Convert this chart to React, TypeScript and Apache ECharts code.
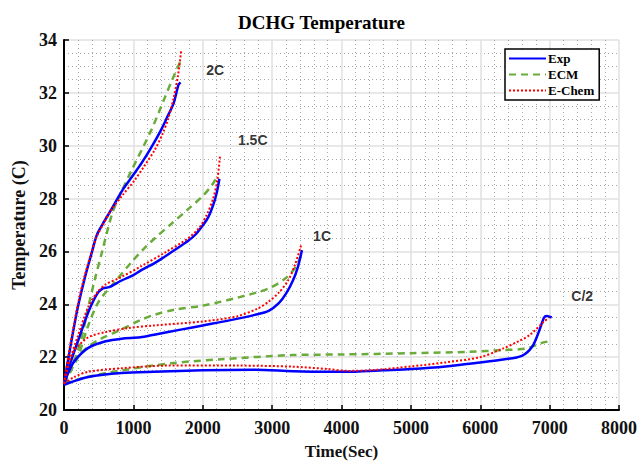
import React, { useEffect, useRef } from "react";
import * as echarts from "echarts";

// ---- data (Time [s], Temperature [C]) ----
const exp2C = [[0,21.0],[60,21.9],[120,22.8],[200,23.9],[300,25.0],[400,25.95],[470,26.6],[550,27.0],[640,27.4],[750,27.9],[850,28.35],[1000,28.9],[1120,29.35],[1250,29.9],[1400,30.6],[1500,31.15],[1580,31.6],[1650,32.3],[1680,32.4]];
const echem2C = [[0,21.0],[60,22.0],[120,22.9],[200,24.0],[300,25.1],[400,26.0],[470,26.55],[560,27.0],[690,27.6],[850,28.15],[1020,28.7],[1150,29.2],[1310,29.85],[1420,30.45],[1500,31.0],[1580,31.8],[1640,32.6],[1690,33.6]];
const ecm2C = [[0,21.0],[100,21.5],[250,22.7],[350,23.9],[450,25.0],[550,26.0],[690,27.4],[800,28.1],[980,29.1],[1260,30.6],[1450,31.8],[1560,32.5],[1680,33.2]];

const exp15C = [[0,21.0],[80,21.7],[200,22.6],[350,23.7],[480,24.4],[560,24.6],[650,24.65],[830,24.9],[1000,25.1],[1120,25.3],[1300,25.55],[1450,25.8],[1650,26.15],[1790,26.4],[1900,26.65],[1990,26.95],[2080,27.3],[2150,27.75],[2200,28.2],[2240,28.75]];
const echem15C = [[0,21.0],[80,21.85],[200,22.8],[350,23.9],[480,24.45],[600,24.75],[800,25.0],[1120,25.45],[1450,25.95],[1790,26.5],[1950,26.9],[2060,27.4],[2150,28.0],[2210,28.7],[2250,29.65]];
const ecm15C = [[0,21.0],[100,21.5],[200,22.0],[350,23.2],[500,24.1],[735,24.85],[975,25.6],[1150,26.1],[1310,26.5],[1550,27.05],[1790,27.6],[2000,28.1],[2130,28.5],[2220,28.9]];

const exp1C = [[0,20.95],[60,21.4],[150,21.85],[350,22.35],[600,22.6],[830,22.7],[1100,22.75],[1300,22.85],[1700,23.05],[2000,23.2],[2400,23.4],[2750,23.6],[2950,23.75],[3100,24.05],[3200,24.4],[3300,24.9],[3370,25.4],[3430,26.05]];
const echem1C = [[0,21.0],[60,21.7],[150,22.25],[350,22.75],[600,22.95],[930,23.1],[1300,23.2],[2000,23.35],[2500,23.55],[2800,23.85],[2950,24.1],[3100,24.45],[3230,24.9],[3330,25.5],[3420,26.25]];
const ecm1C = [[0,21.0],[150,21.9],[350,22.4],[500,22.65],[830,23.05],[1100,23.4],[1300,23.6],[1600,23.8],[2000,23.95],[2500,24.25],[2950,24.6],[3200,25.0],[3350,25.45],[3430,25.95]];

const expHalfC = [[0,20.95],[100,21.05],[350,21.25],[830,21.4],[1300,21.45],[2000,21.5],[2750,21.52],[3300,21.47],[3800,21.45],[4200,21.45],[4600,21.5],[5000,21.55],[5500,21.65],[6000,21.8],[6300,21.9],[6600,22.05],[6750,22.4],[6850,23.0],[6920,23.5],[6960,23.56],[7030,23.5]];
const echemHalfC = [[0,21.0],[150,21.25],[350,21.45],[830,21.58],[1500,21.68],[2500,21.68],[3300,21.64],[3800,21.55],[4100,21.48],[4500,21.52],[5000,21.65],[5500,21.8],[6000,22.0],[6330,22.33],[6550,22.6],[6720,22.85],[6900,23.3],[6990,23.5]];
const ecmHalfC = [[0,21.0],[350,21.26],[830,21.5],[1550,21.77],[2270,21.92],[3300,22.08],[4000,22.1],[5000,22.15],[5850,22.2],[6330,22.27],[6670,22.33],[6900,22.55],[7000,22.6]];

const rateLabels = [
  { name: "2C", value: [2180, 32.85] },
  { name: "1.5C", value: [2720, 30.2] },
  { name: "1C", value: [3720, 26.6] },
  { name: "C/2", value: [7470, 24.3] },
];

const legendNames = ["Exp", "ECM", "E-Chem"];

const SERIF = "'Liberation Serif', 'Times New Roman', serif";

export default function App() {
  const ref = useRef<HTMLDivElement>(null);
  useEffect(() => {
    document.body.style.margin = "0";
    const chart = echarts.init(ref.current!, null, { renderer: "svg" });
    const expStyle = { color: "#0000ff", width: 2.5, type: "solid" as const };
    const ecmStyle = { color: "#6aac3a", width: 2.5, type: [7, 5] as any };
    const echemStyle = { color: "#ff0000", width: 2, type: [2, 2] as any };
    const mk = (name: string, data: number[][], ls: any) => ({
      name,
      type: "line",
      data,
      symbol: "none",
      showSymbol: false,
      smooth: 0.3,
      lineStyle: ls,
      itemStyle: { color: ls.color },
      z: name === "E-Chem" ? 4 : name === "Exp" ? 3 : 2,
    });
    const series: any[] = [
      mk("Exp", exp2C, expStyle),
      mk("Exp", exp15C, expStyle),
      mk("Exp", exp1C, expStyle),
      mk("Exp", expHalfC, expStyle),
      mk("ECM", ecm2C, ecmStyle),
      mk("ECM", ecm15C, ecmStyle),
      mk("ECM", ecm1C, ecmStyle),
      mk("ECM", ecmHalfC, ecmStyle),
      mk("E-Chem", echem2C, echemStyle),
      mk("E-Chem", echem15C, echemStyle),
      mk("E-Chem", echem1C, echemStyle),
      mk("E-Chem", echemHalfC, echemStyle),
      {
        name: "rates",
        type: "scatter",
        data: rateLabels,
        symbolSize: 0,
        silent: true,
        label: {
          show: true,
          position: "inside",
          formatter: "{b}",
          fontFamily: "'Liberation Sans', Arial, sans-serif",
          fontWeight: "bold",
          fontSize: 14,
          color: "#000",
        },
        z: 5,
      },
    ];
    const axisCommon = {
      axisLine: { show: true, onZero: false, lineStyle: { color: "#000", width: 2 } },
      axisTick: { show: true, inside: true, length: 5, lineStyle: { color: "#000", width: 1.5 } },
      axisLabel: { fontFamily: SERIF, fontWeight: "bold", fontSize: 18, color: "#111", formatter: (v: number) => String(v) },
      splitLine: { show: true, lineStyle: { color: "#e0e0e0", width: 1.5 } },
      minorSplitLine: { show: true, lineStyle: { color: "#a8a8a8", width: 1, type: [1, 3] } },
      nameTextStyle: { fontFamily: SERIF, fontWeight: "bold", fontSize: 17, color: "#111" },
    };
    chart.setOption({
      animation: false,
      backgroundColor: "#fff",
      title: {
        text: "DCHG Temperature",
        left: "center",
        top: 8,
        textStyle: { fontFamily: SERIF, fontWeight: "bold", fontSize: 19, color: "#000" },
      },
      legend: {
        data: legendNames,
        orient: "vertical",
        left: 505,
        top: 49,
        backgroundColor: "#fff",
        borderColor: "#000",
        borderWidth: 1.5,
        borderRadius: 0,
        padding: [3, 5, 3, 3],
        itemGap: 3,
        itemWidth: 37,
        itemHeight: 12,
        itemStyle: { opacity: 0 },
        textStyle: { fontFamily: SERIF, fontWeight: "bold", fontSize: 13, color: "#000", padding: [0, 0, 0, -3] },
      },
      grid: { left: 64, right: 24, top: 40, bottom: 63, containLabel: false },
      xAxis: {
        type: "value",
        min: 0,
        max: 8000,
        interval: 1000,
        name: "Time(Sec)",
        nameLocation: "middle",
        nameGap: 33,
        minorTick: { show: false, splitNumber: 5 },
        ...axisCommon,
        axisLabel: { ...axisCommon.axisLabel, margin: 9 },
      },
      yAxis: {
        type: "value",
        min: 20,
        max: 34,
        interval: 2,
        name: "Temperature (C)",
        nameLocation: "middle",
        nameGap: 36,
        minorTick: { show: false, splitNumber: 4 },
        ...axisCommon,
        axisLabel: { ...axisCommon.axisLabel, margin: 7 },
        nameTextStyle: { ...axisCommon.nameTextStyle, fontSize: 18 },
      },
      series,
    });
    return () => chart.dispose();
  }, []);
  return <div ref={ref} style={{ width: 643, height: 473 }} />;
}
